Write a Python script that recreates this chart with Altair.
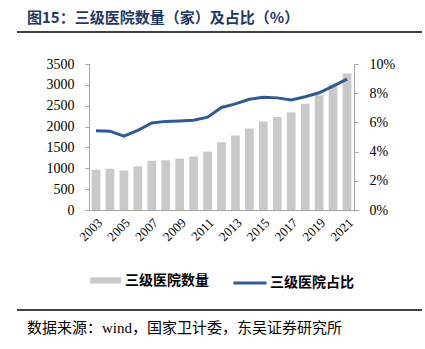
import altair as alt
import pandas as pd

years = [str(y) for y in range(2003, 2022)]
counts = [965, 990, 946, 1045, 1182, 1192, 1233, 1284, 1399, 1624, 1787,
          1954, 2123, 2232, 2340, 2548, 2749, 2996, 3275]
shares = [0.0542, 0.0540, 0.0506, 0.0545, 0.0596, 0.0607, 0.0610, 0.0615,
          0.0636, 0.0702, 0.0727, 0.0758, 0.0772, 0.0768, 0.0754, 0.0776,
          0.0803, 0.0849, 0.0897]
tick_years = years[::2]
left_ticks = [0, 500, 1000, 1500, 2000, 2500, 3000, 3500]
right_ticks = [0, 0.02, 0.04, 0.06, 0.08, 0.10]
bar_name = "三级医院数量"
line_name = "三级医院占比"
title_text = "图15：三级医院数量（家）及占比（%）"
source_text = "数据来源：wind，国家卫计委，东吴证券研究所"

df = pd.DataFrame({"year": years, "count": counts, "share": shares,
                   "s1": bar_name, "s2": line_name})

SERIF = "Liberation Serif, Times New Roman, Noto Sans CJK SC"
CJK = "Noto Sans CJK SC"
AX_GRAY = "#a6a6a6"

x_enc = alt.X("year:O", title=None,
              scale=alt.Scale(paddingInner=0.375, paddingOuter=0.19),
              axis=alt.Axis(values=tick_years, labelAngle=315, ticks=False,
                            labelAlign="right", labelBaseline="top",
                            domainColor=AX_GRAY, labelFont=SERIF,
                            labelFontSize=13, labelColor="#000",
                            labelPadding=6))

base = alt.Chart(df).encode(x=x_enc)

bars = base.mark_bar().encode(
    y=alt.Y("count:Q", title=None,
            scale=alt.Scale(domain=[0, 3500]),
            axis=alt.Axis(orient="left", values=left_ticks, format="d",
                          grid=False,
                          domainColor=AX_GRAY, tickColor=AX_GRAY, tickSize=4,
                          labelFont=SERIF, labelFontSize=14, labelColor="#000",
                          labelPadding=11)),
    fill=alt.Fill("s1:N", scale=alt.Scale(range=["#c9c9c9"]),
                  legend=alt.Legend(title=None, orient="none", legendX=1,
                                    legendY=201,
                                    symbolType="M-1,-0.2H1V0.2H-1Z",
                                    symbolSize=961, symbolStrokeWidth=0,
                                    labelFont=CJK, labelFontSize=14,
                                    labelFontWeight="bold", labelColor="#000",
                                    labelOffset=4)),
)

line = base.mark_line(strokeWidth=3).encode(
    y=alt.Y("share:Q", title=None,
            scale=alt.Scale(domain=[0, 0.1]),
            axis=alt.Axis(orient="right", values=right_ticks, format=".0%",
                          grid=False, domainColor=AX_GRAY, tickColor=AX_GRAY,
                          tickSize=4, labelFont=SERIF, labelFontSize=14,
                          labelColor="#000", labelPadding=11)),
    stroke=alt.Stroke("s2:N", scale=alt.Scale(range=["#2f5b92"]),
                      legend=alt.Legend(title=None, orient="none", legendX=143,
                                        legendY=201, symbolType="stroke",
                                        symbolSize=1089, symbolStrokeWidth=3,
                                        labelFont=CJK, labelFontSize=14,
                                        labelFontWeight="bold",
                                        labelColor="#000", labelOffset=2)),
)

title_layer = alt.Chart(pd.DataFrame({"t": [title_text]})).mark_text(
    align="left", baseline="middle", font=CJK, fontSize=15,
    fontWeight="bold", color="#1f3864"
).encode(x=alt.value(-62), y=alt.value(-46.5), text="t:N")

source_layer = alt.Chart(pd.DataFrame({"t": [source_text]})).mark_text(
    align="left", baseline="middle", font=SERIF, fontSize=15, color="#000"
).encode(x=alt.value(-62), y=alt.value(264), text="t:N")

top_rule = alt.Chart(pd.DataFrame({"a": [0]})).mark_rule(
    color="#000", strokeWidth=1.5
).encode(x=alt.value(-72), x2=alt.value(333), y=alt.value(-32))

bottom_rule = alt.Chart(pd.DataFrame({"a": [0]})).mark_rule(
    color="#000", strokeWidth=1.5
).encode(x=alt.value(-72), x2=alt.value(333), y=alt.value(246))

chart = alt.layer(bars, line, title_layer, source_layer, top_rule,
                  bottom_rule).resolve_scale(y="independent").properties(
    width=265, height=146,
    autosize=alt.AutoSizeParams(type="none"),
    padding={"left": 89, "top": 64, "right": 71, "bottom": 139},
    background="#ffffff",
).configure_view(stroke=None)

chart.save("out.html", embed_options={"renderer": "svg", "actions": False})
